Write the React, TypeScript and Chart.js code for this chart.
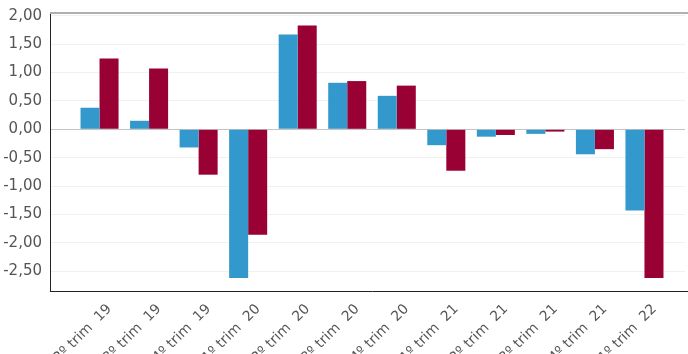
import { useEffect, useRef } from 'react';
import { Chart, registerables } from 'chart.js';

Chart.register(...registerables);

// Quarterly variation, two series (values in percentage points)
const quarters = [
  '2º trim  19', '3º trim  19', '4º trim  19',
  '1º trim  20', '2º trim  20', '3º trim  20', '4º trim  20',
  '1º trim  21', '2º trim  21', '3º trim  21', '4º trim  21',
  '1º trim  22',
];
const seriesBlue = [0.38, 0.15, -0.32, -2.62, 1.67, 0.82, 0.59, -0.28, -0.13, -0.08, -0.44, -1.43];
const seriesRed = [1.25, 1.07, -0.80, -1.86, 1.83, 0.85, 0.77, -0.73, -0.10, -0.04, -0.35, -2.62];
const yTickValues = [-2.5, -2, -1.5, -1, -0.5, 0, 0.5, 1, 1.5, 2];

const CANVAS_W = 694;
const CANVAS_H = 354;

// An empty slot on each side of the quarters keeps a wide margin inside the plot
const labels = ['', ...quarters, ''];
const pad = (arr: number[]) => [null, ...arr, null];

const topBorder = {
  id: 'topBorder',
  afterDraw(chart: Chart) {
    const { ctx, chartArea } = chart;
    ctx.save();
    ctx.fillStyle = '#b0b0b0';
    ctx.fillRect(chartArea.left, chartArea.top - 1, chartArea.right - chartArea.left, 2);
    ctx.restore();
  },
};

export default function App() {
  const canvasRef = useRef<HTMLCanvasElement | null>(null);

  useEffect(() => {
    if (!canvasRef.current) return;
    const chart = new Chart(canvasRef.current, {
      type: 'bar',
      data: {
        labels,
        datasets: [
          {
            label: 'A',
            data: pad(seriesBlue),
            backgroundColor: '#3399cc',
            categoryPercentage: 0.768,
            barPercentage: 1,
          },
          {
            label: 'B',
            data: pad(seriesRed),
            backgroundColor: '#990033',
            categoryPercentage: 0.768,
            barPercentage: 1,
          },
        ],
      },
      options: {
        responsive: false,
        animation: false,
        layout: { padding: { top: 13, left: 0, right: 0, bottom: 0 } },
        plugins: {
          legend: { display: false },
          tooltip: { enabled: false },
          title: { display: false },
        },
        scales: {
          x: {
            offset: false,
            grid: { display: false, drawTicks: false },
            border: { display: true, color: '#222', width: 1 },
            ticks: {
              autoSkip: false,
              minRotation: 45,
              maxRotation: 45,
              padding: 10,
              labelOffset: 10,
              color: '#555',
              font: { family: 'DejaVu Sans', size: 14 },
            },
            afterFit(scale: any) {
              scale.height = 63;
              scale.paddingLeft = 0;
              scale.paddingRight = 0;
            },
          },
          y: {
            min: -2.85,
            max: 2.05,
            grid: {
              drawTicks: false,
              color: (ctx: any) => (ctx.tick && ctx.tick.value === 0 ? '#c4c4c4' : '#f1f1f1'),
            },
            border: { display: true, color: '#222', width: 1 },
            ticks: {
              padding: 8,
              color: '#555',
              font: { family: 'DejaVu Sans', size: 15 },
              callback: (v: any) => Number(v).toFixed(2).replace('.', ','),
            },
            afterBuildTicks(scale: any) {
              scale.ticks = yTickValues.map((value) => ({ value }));
            },
            afterFit(scale: any) {
              scale.width = 50;
              scale.paddingTop = 0;
              scale.paddingBottom = 0;
            },
          },
        },
      },
      plugins: [topBorder],
    });
    return () => chart.destroy();
  }, []);

  return (
    <div
      style={{
        position: 'absolute',
        left: 0,
        top: 0,
        width: 688,
        height: CANVAS_H,
        overflow: 'hidden',
        background: '#fff',
      }}
    >
      <canvas
        ref={canvasRef}
        width={CANVAS_W}
        height={CANVAS_H}
        style={{ display: 'block', width: CANVAS_W, height: CANVAS_H }}
      />
      {/* keeps the open right side of the plot clean at the page edge */}
      <div
        style={{
          position: 'absolute',
          left: 685,
          top: 14,
          width: 3,
          height: 276,
          background: '#fff',
        }}
      />
    </div>
  );
}
